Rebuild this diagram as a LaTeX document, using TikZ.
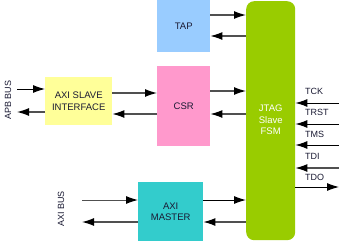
\documentclass[tikz,border=0pt]{standalone}
\usepackage{fontspec}
\setmainfont{Liberation Sans}
\usetikzlibrary{arrows.meta,positioning}
\definecolor{tapc}{HTML}{99CCFF}
\definecolor{csrc}{HTML}{FF99CC}
\definecolor{slvc}{HTML}{FFFF99}
\definecolor{fsmc}{HTML}{99CC00}
\definecolor{mstc}{HTML}{33CCCC}
\definecolor{linec}{HTML}{505050}
\definecolor{txtc}{HTML}{1A1A33}
\tikzset{
  blk/.style={draw=none, inner sep=0pt, align=center, text=txtc, font=\fontsize{9.5}{11.5}\selectfont},
  arr/.style={linec, line width=1.2pt, -{Latex[length=12pt,width=8pt,black]}},
  lbl/.style={text=txtc, font=\fontsize{9}{10}\selectfont, inner sep=0pt},
}
\begin{document}
\begin{tikzpicture}[x=1pt,y=-1pt]
\useasboundingbox (0,0) rectangle (339,241);
% blocks
\node[blk, fill=tapc, minimum width=53pt, minimum height=52pt, anchor=north west] (tap) at (157,0) {TAP};
\node[blk, fill=csrc, minimum width=53pt, minimum height=80pt, anchor=north west] (csr) at (157,66) {CSR};
\node[blk, fill=slvc, minimum width=67pt, minimum height=48pt, anchor=north west] (slv) at (45,77) {AXI SLAVE\\INTERFACE};
\node[blk, fill=mstc, minimum width=65pt, minimum height=59pt, anchor=north west] (mst) at (138,182) {AXI\\MASTER};
\node[blk, fill=fsmc, rounded corners=8pt, minimum width=49pt, minimum height=239pt, anchor=north west] (fsm) at (246,1) {};
\node[blk, text=white, anchor=center] (fsmt) at (fsm.center |- 0,120) {JTAG\\Slave\\FSM};
% bus labels
\node[lbl, rotate=90] (apb) at (8,100) {APB BUS};
\node[lbl, rotate=90] (axib) at (61,209) {AXI BUS};
% external coordinates
\coordinate (apbin) at (17,89);
\coordinate (apbout) at (17,112);
\coordinate (axiin) at (82,200);
\coordinate (axiout) at (82,222);
\coordinate (tck) at (339,103);
\coordinate (trst) at (339,124);
\coordinate (tms) at (339,145);
\coordinate (tdi) at (339,168);
\coordinate (tdo) at (339,187);
% arrows TAP <-> FSM
\draw[arr] (tap.east |- 0,15) -- (fsm.west |- 0,15);
\draw[arr] (fsm.west |- 0,36) -- (tap.east |- 0,36);
% CSR <-> FSM
\draw[arr] (csr.east |- 0,91) -- (fsm.west |- 0,91);
\draw[arr] (fsm.west |- 0,114) -- (csr.east |- 0,114);
% slave <-> CSR
\draw[arr] (slv.east |- 0,93) -- (csr.west |- 0,93);
\draw[arr] (csr.west |- 0,114) -- (slv.east |- 0,114);
% APB <-> slave
\draw[arr,black,line width=1pt] (apbin) -- (slv.west |- apbin);
\draw[arr] (slv.west |- apbout) -- (apbout);
% AXI bus <-> master
\draw[arr,line width=1pt] (axiin) -- (mst.west |- axiin);
\draw[arr] (mst.west |- axiout) -- (axiout);
% master <-> FSM
\draw[arr,black,line width=1pt] (mst.east |- 0,200) -- (fsm.west |- 0,200);
\draw[arr] (fsm.west |- 0,222) -- (mst.east |- 0,222);
% JTAG signals
\draw[arr,black,line width=1pt] (tck) -- (fsm.east |- tck);
\draw[arr,black,line width=1pt] (trst) -- (fsm.east |- trst);
\draw[arr,black,line width=1pt] (tms) -- (fsm.east |- tms);
\draw[arr] (tdi) -- (fsm.east |- tdi);
\draw[arr,black,line width=1pt] (fsm.east |- tdo) -- (tdo);
% signal labels
\node[lbl, anchor=west] (ltck) at (305,91) {TCK};
\node[lbl, anchor=west] (ltrst) at (305,112) {TRST};
\node[lbl, anchor=west] (ltms) at (305,134) {TMS};
\node[lbl, anchor=west] (ltdi) at (305,156) {TDI};
\node[lbl, anchor=west] (ltdo) at (305,177) {TDO};
\end{tikzpicture}
\end{document}
